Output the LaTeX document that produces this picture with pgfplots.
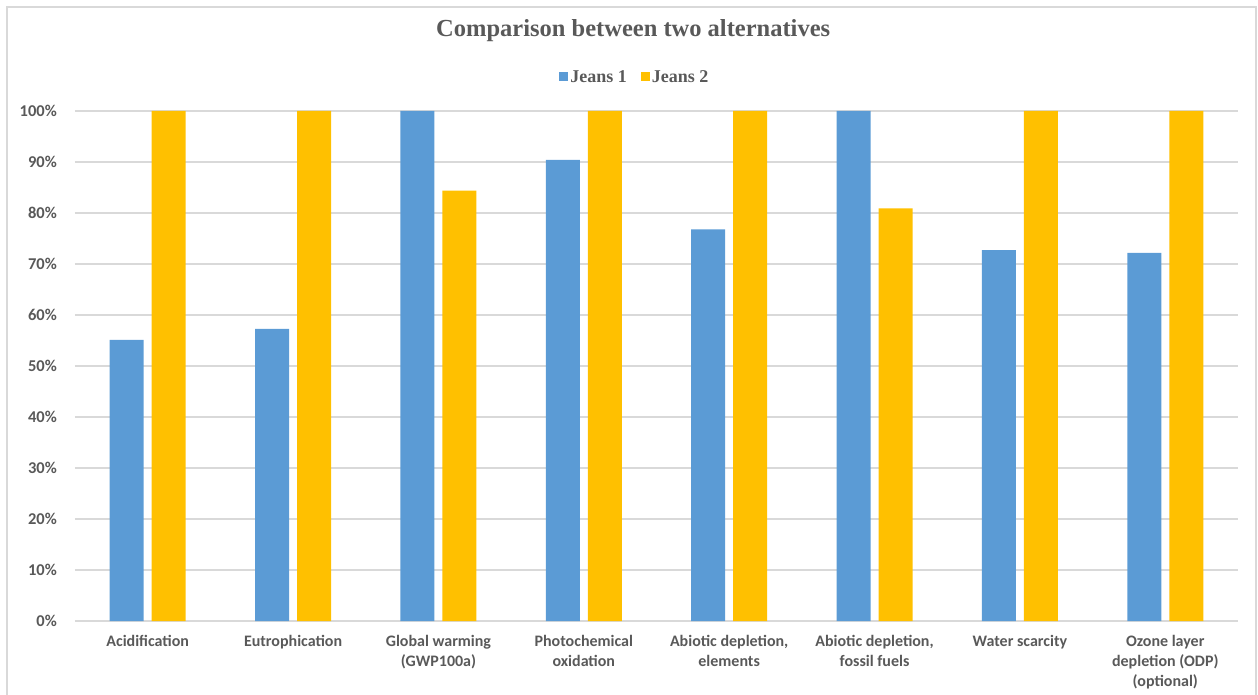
\documentclass[border=0pt]{standalone}
\usepackage{pgfplots}
\pgfplotsset{compat=1.18}
\usepackage{fontspec}
\setmainfont{Carlito}
\newfontfamily\serifb{Liberation Serif}
\definecolor{jblue}{HTML}{5B9BD5}
\definecolor{jyellow}{HTML}{FFC000}
\definecolor{txtgray}{HTML}{595959}
\definecolor{gridgray}{HTML}{D9D9D9}
\begin{document}
\begin{tikzpicture}
\useasboundingbox (-75pt,-73pt) rectangle (1183pt,621pt);
\draw[gridgray, line width=1.5pt] (-68pt,-74pt) -- (-68pt,614pt) -- (1181pt,614pt) -- (1181pt,-74pt);
\begin{axis}[
  at={(0pt,0pt)}, anchor=south west,
  scale only axis, width=1163pt, height=510pt,
  xmin=-0.5, xmax=7.5, ymin=0, ymax=100,
  ybar=8pt, bar width=34pt,
  axis line style={draw=none},
  ymajorgrids, grid style={gridgray, line width=1.2pt},
  major tick length=0pt, tick style={draw=none},
  ytick={0,10,...,100},
  yticklabels={0\%,10\%,20\%,30\%,40\%,50\%,60\%,70\%,80\%,90\%,100\%},
  yticklabel style={font=\fontsize{16.5}{18}\selectfont\bfseries, text=txtgray, inner sep=0pt},
  yticklabel shift=18pt,
  xtick={0,...,7},
  xticklabels={Acidification, Eutrophication, {Global warming\\(GWP100a)}, {Photochemical\\oxidation}, {Abiotic depletion,\\elements}, {Abiotic depletion,\\fossil fuels}, Water scarcity, {Ozone layer\\depletion (ODP)\\(optional)}},
  xticklabel style={font=\fontsize{16}{20}\selectfont\bfseries, text=txtgray, align=center, anchor=north, inner sep=0pt},
  xticklabel shift=14pt,
  title={Comparison between two alternatives},
  title style={at={(0.48,1.145)}, anchor=center, font=\serifb\bfseries\fontsize{24.5}{28}\selectfont, text=txtgray},
  legend columns=2,
  legend style={at={(0.4815,1.067)}, anchor=center, draw=none, fill=none,
    font=\serifb\bfseries\fontsize{18}{20}\selectfont, text=txtgray,
    /tikz/every even column/.append style={column sep=12pt}},
  legend image code/.code={\fill[#1] (0pt,-4.5pt) rectangle (9pt,4.5pt);},
]
\addplot[fill=jblue, draw=none] coordinates {(0,55.1) (1,57.3) (2,100) (3,90.4) (4,76.8) (5,100) (6,72.7) (7,72.2)};
\addplot[fill=jyellow, draw=none] coordinates {(0,100) (1,100) (2,84.4) (3,100) (4,100) (5,80.9) (6,100) (7,100)};
\legend{Jeans 1, Jeans 2}
\end{axis}
\end{tikzpicture}
\end{document}
